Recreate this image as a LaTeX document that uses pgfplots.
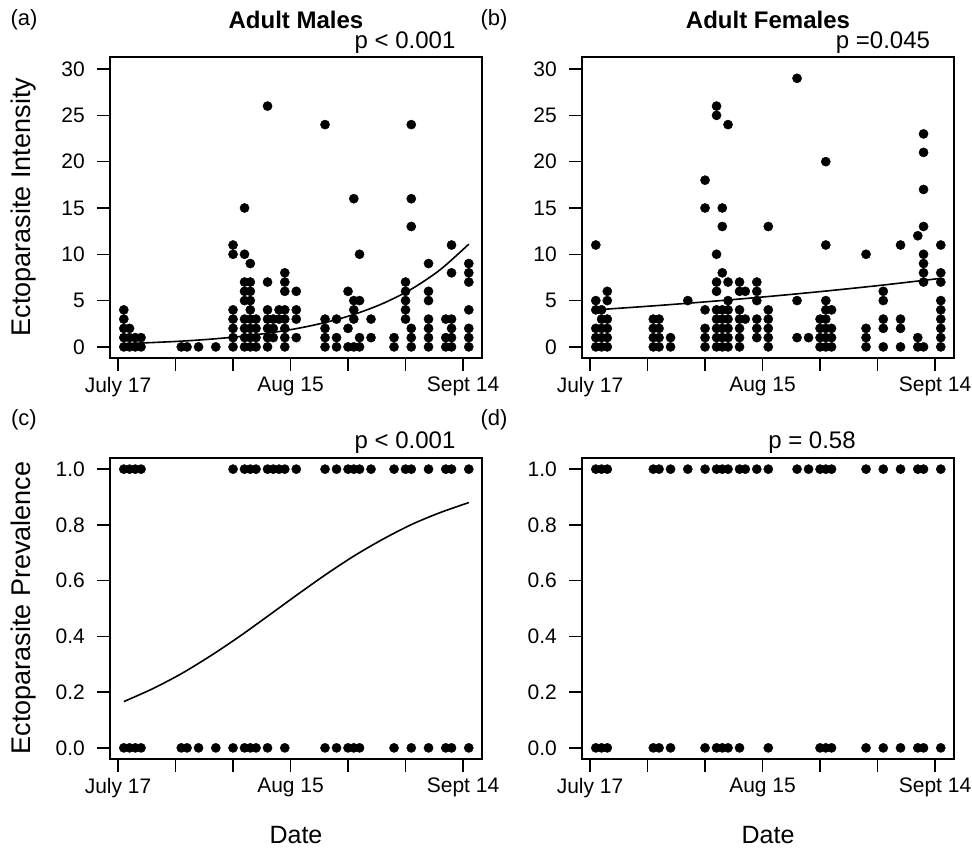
\documentclass[border=0pt]{standalone}
\usepackage{fontspec}
\setmainfont{Liberation Sans}
\usepackage{pgfplots}
\pgfplotsset{compat=1.18}

\pgfplotsset{
  panel/.style={
    scale only axis, width=372pt, height=301pt,
    anchor=south west,
    xmin=-1.4, xmax=63.3,
    xtick={0,10,...,60},
    xticklabels={July 17,,,Aug 15,,,Sept 14},
    tick align=outside, major tick length=13pt,
    xtick pos=bottom, ytick pos=left,
    axis line style={line width=1.4pt},
    tick style={line width=1.4pt, black},
    tick label style={font=\fontsize{21}{25}\selectfont},
    /pgf/number format/assume math mode=true,
    xticklabel style={inner sep=0pt, anchor=north},
    yticklabel style={inner sep=0pt, anchor=east},
    xticklabel shift=6pt,
    yticklabel shift=12pt,
  },
  intens/.style={panel, ymin=-1.2, ymax=31.3, ytick={0,5,...,30}},
  prev/.style={panel, ymin=-0.04, ymax=1.04, ytick={0,0.2,...,1},
    yticklabels={0.0,0.2,0.4,0.6,0.8,1.0}},
  dots/.style={only marks, mark=*, mark size=4.6pt, black},
  fit/.style={no marks, black, line width=1.6pt, smooth},
}

\begin{document}
\begin{tikzpicture}
\useasboundingbox (0pt,0pt) rectangle (972pt,-849pt);

% (a) adult males, intensity
\begin{axis}[intens, at={(110pt,-358pt)}]
\addplot[dots] coordinates {
(1,0)(1,1)(1,2)(1,3)(1,4)
(2,0)(2,1)(2,2)
(3,0)(3,1)
(4,0)(4,1)
(11,0)(12,0)(14,0)(17,0)
(20,0)(20,1)(20,2)(20,3)(20,4)(20,10)(20,11)
(22,0)(22,1)(22,2)(22,3)(22,5)(22,6)(22,7)(22,10)(22,15)
(23,0)(23,1)(23,2)(23,3)(23,4)(23,5)(23,6)(23,7)(23,9)
(24,0)(24,1)(24,2)(24,3)
(26,0)(26,1)(26,2)(26,3)(26,4)(26,7)(26,26)
(27,1)(27,2)(27,3)
(28,3)(28,4)
(29,0)(29,1)(29,2)(29,3)(29,4)(29,6)(29,7)(29,8)
(31,1)(31,3)(31,4)(31,6)
(36,0)(36,1)(36,2)(36,3)(36,24)
(38,0)(38,1)(38,3)
(40,0)(40,2)(40,6)
(41,0)(41,3)(41,4)(41,5)(41,16)
(42,0)(42,1)(42,5)(42,10)
(44,1)(44,3)
(48,0)(48,1)
(50,3)(50,4)(50,5)(50,6)(50,7)
(51,0)(51,1)(51,2)(51,13)(51,16)(51,24)
(54,0)(54,1)(54,2)(54,3)(54,5)(54,6)(54,9)
(57,0)(57,1)(57,3)
(58,0)(58,1)(58,2)(58,3)(58,8)(58,11)
(61,0)(61,1)(61,2)(61,4)(61,7)(61,8)(61,9)
};
\addplot[fit] coordinates {
(1,0.35)(6,0.47)(11,0.62)(16,0.83)(21,1.11)(26,1.48)(31,1.97)
(36,2.63)(41,3.50)(46,4.67)(51,6.23)(56,8.32)(61,11.09)
};
\end{axis}

% (b) adult females, intensity
\begin{axis}[intens, at={(582pt,-358pt)}]
\addplot[dots] coordinates {
(1,0)(1,1)(1,2)(1,4)(1,5)(1,11)
(2,0)(2,1)(2,2)(2,3)(2,4)
(3,0)(3,1)(3,2)(3,3)(3,5)(3,6)
(11,0)(11,1)(11,2)(11,3)
(12,0)(12,1)(12,2)(12,3)
(14,0)(14,1)
(17,5)
(20,0)(20,1)(20,2)(20,4)(20,15)(20,18)
(22,0)(22,1)(22,2)(22,3)(22,4)(22,6)(22,7)(22,10)(22,25)(22,26)
(23,0)(23,1)(23,2)(23,3)(23,4)(23,8)(23,13)(23,15)
(24,0)(24,1)(24,2)(24,3)(24,4)(24,5)(24,7)(24,24)
(26,0)(26,1)(26,2)(26,3)(26,4)(26,6)(26,7)
(27,3)(27,6)
(29,1)(29,2)(29,3)(29,5)(29,6)(29,7)
(31,0)(31,1)(31,2)(31,3)(31,4)(31,13)
(36,1)(36,5)(36,29)
(38,1)
(40,0)(40,1)(40,2)(40,3)
(41,0)(41,1)(41,2)(41,3)(41,4)(41,5)(41,11)(41,20)
(42,0)(42,1)(42,2)(42,4)
(48,0)(48,1)(48,2)(48,10)
(51,0)(51,2)(51,3)(51,5)(51,6)
(54,0)(54,2)(54,3)(54,11)
(57,0)(57,1)(57,12)
(58,0)(58,7)(58,8)(58,9)(58,10)(58,13)(58,17)(58,21)(58,23)
(61,0)(61,1)(61,2)(61,3)(61,4)(61,5)(61,7)(61,8)(61,11)
};
\addplot[fit] coordinates {
(1,4.00)(11,4.43)(21,4.91)(31,5.44)(41,6.03)(51,6.68)(61,7.40)
};
\end{axis}

% (c) adult males, prevalence
\begin{axis}[prev, at={(110pt,-759pt)}]
\addplot[dots] coordinates {
(1,1)(2,1)(3,1)(4,1)(20,1)(22,1)(23,1)(24,1)(26,1)(27,1)(28,1)(29,1)(31,1)
(36,1)(38,1)(40,1)(41,1)(42,1)(44,1)(48,1)(50,1)(51,1)(54,1)(57,1)(58,1)(61,1)
(1,0)(2,0)(3,0)(4,0)(11,0)(12,0)(14,0)(17,0)(20,0)(22,0)(23,0)(24,0)(26,0)
(29,0)(36,0)(38,0)(40,0)(41,0)(42,0)(48,0)(51,0)(54,0)(57,0)(58,0)(61,0)
};
\addplot[fit] coordinates {
(1,0.166)(6,0.212)(11,0.266)(16,0.329)(21,0.398)(26,0.472)(31,0.547)
(36,0.620)(41,0.688)(46,0.748)(51,0.801)(56,0.844)(61,0.880)
};
\end{axis}

% (d) adult females, prevalence
\begin{axis}[prev, at={(582pt,-759pt)}]
\addplot[dots] coordinates {
(1,1)(2,1)(3,1)(11,1)(12,1)(14,1)(17,1)(20,1)(22,1)(23,1)(24,1)(26,1)(27,1)
(29,1)(31,1)(36,1)(38,1)(40,1)(41,1)(42,1)(48,1)(51,1)(54,1)(57,1)(58,1)(61,1)
(1,0)(2,0)(3,0)(11,0)(12,0)(14,0)(20,0)(22,0)(23,0)(24,0)(26,0)(31,0)
(40,0)(41,0)(42,0)(48,0)(51,0)(54,0)(57,0)(58,0)(61,0)
};
\end{axis}

% panel letters, titles, p values
\begin{scope}[every node/.style={inner sep=0pt}]
\node[font=\fontsize{22}{26}\selectfont] at (24pt,-20pt) {(a)};
\node[font=\fontsize{22}{26}\selectfont] at (494pt,-20pt) {(b)};
\node[font=\fontsize{22}{26}\selectfont] at (24pt,-420pt) {(c)};
\node[font=\fontsize{22}{26}\selectfont] at (494pt,-420pt) {(d)};
\node[font=\bfseries\fontsize{24}{28}\selectfont] at (296pt,-20pt) {Adult Males};
\node[font=\bfseries\fontsize{24}{28}\selectfont] at (768pt,-20pt) {Adult Females};
\node[font=\fontsize{24}{28}\selectfont] at (405pt,-43pt) {p < 0.001};
\node[font=\fontsize{24}{28}\selectfont] at (883pt,-43pt) {p =0.045};
\node[font=\fontsize{24}{28}\selectfont] at (405pt,-443pt) {p < 0.001};
\node[font=\fontsize{24}{28}\selectfont] at (812pt,-443pt) {p = 0.58};
\node[font=\fontsize{27}{31}\selectfont, rotate=90] at (24pt,-207pt) {Ectoparasite Intensity};
\node[font=\fontsize{27}{31}\selectfont, rotate=90] at (24pt,-608pt) {Ectoparasite Prevalence};
\node[font=\fontsize{25}{29}\selectfont] at (296pt,-835pt) {Date};
\node[font=\fontsize{25}{29}\selectfont] at (768pt,-835pt) {Date};
\end{scope}
\end{tikzpicture}
\end{document}
